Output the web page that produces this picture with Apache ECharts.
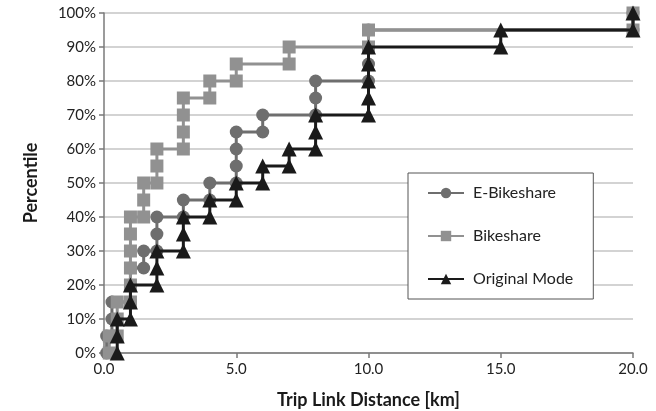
<!DOCTYPE html>
<html>
<head>
<meta charset="utf-8">
<script src="https://cdn.jsdelivr.net/npm/echarts@6/dist/echarts.min.js"></script>
<style>
html,body{margin:0;padding:0;background:#fff;}
#c{width:656px;height:411px;}
</style>
</head>
<body>
<div id="c"></div>
<script>
// Trip link distance [km] and cumulative percentile [%] (step CDF points)
const eBikeshareX = [0.1, 0.1, 0.3, 0.3, 0.3, 1.0, 1.0, 1.0, 1.5, 1.5, 2.0, 2.0, 2.0, 3.0, 3.0, 4.0, 4.0, 5.0, 5.0, 5.0, 5.0, 6.0, 6.0, 8.0, 8.0, 8.0, 10.0, 10.0, 10.0, 10.0, 20.0, 20.0];
const eBikeshareY = [0, 5, 5, 10, 15, 15, 20, 25, 25, 30, 30, 35, 40, 40, 45, 45, 50, 50, 55, 60, 65, 65, 70, 70, 75, 80, 80, 85, 90, 95, 95, 100];

const bikeshareX = [0.2, 0.2, 0.5, 0.5, 0.5, 1.0, 1.0, 1.0, 1.0, 1.0, 1.0, 1.5, 1.5, 1.5, 2.0, 2.0, 2.0, 3.0, 3.0, 3.0, 3.0, 4.0, 4.0, 5.0, 5.0, 7.0, 7.0, 10.0, 10.0, 20.0, 20.0];
const bikeshareY = [0, 5, 5, 10, 15, 15, 20, 25, 30, 35, 40, 40, 45, 50, 50, 55, 60, 60, 65, 70, 75, 75, 80, 80, 85, 85, 90, 90, 95, 95, 100];

const originalX = [0.5, 0.5, 0.5, 1.0, 1.0, 1.0, 2.0, 2.0, 2.0, 3.0, 3.0, 3.0, 4.0, 4.0, 5.0, 5.0, 6.0, 6.0, 7.0, 7.0, 8.0, 8.0, 8.0, 10.0, 10.0, 10.0, 10.0, 10.0, 15.0, 15.0, 20.0, 20.0];
const originalY = [0, 5, 10, 10, 15, 20, 20, 25, 30, 30, 35, 40, 40, 45, 45, 50, 50, 55, 55, 60, 60, 65, 70, 70, 75, 80, 85, 90, 90, 95, 95, 100];

const seriesNames = ['E-Bikeshare', 'Bikeshare', 'Original Mode'];
const xTicks = [0, 5, 10, 15, 20];
const yTicks = [0, 10, 20, 30, 40, 50, 60, 70, 80, 90, 100];

const pairs = (xs, ys) => xs.map((x, i) => [x, ys[i]]);

const FONT = 'Lato';
const chart = echarts.init(document.getElementById('c'), null, {renderer: 'canvas'});
chart.setOption({
  backgroundColor: '#ffffff',
  animation: false,
  grid: {left: 104, right: 23, top: 13, bottom: 58, containLabel: false, outerBoundsMode: 'none'},
  xAxis: {
    type: 'value', min: xTicks[0], max: xTicks[xTicks.length - 1], interval: 5,
    name: 'Trip Link Distance [km]', nameLocation: 'middle', nameGap: 38,
    nameTextStyle: {fontFamily: FONT, fontWeight: 'bold', fontSize: 18, color: '#1a1a1a'},
    axisLine: {show: true, lineStyle: {color: '#7a7a7a', width: 1.5}},
    axisTick: {show: true, length: 5, lineStyle: {color: '#7a7a7a', width: 1.5}},
    axisLabel: {fontFamily: FONT, fontSize: 15, color: '#222', margin: 9, formatter: v => v.toFixed(1)},
    splitLine: {show: false}
  },
  yAxis: {
    type: 'value', min: yTicks[0], max: yTicks[yTicks.length - 1], interval: 10,
    name: 'Percentile', nameLocation: 'middle', nameGap: 64, nameRotate: 90,
    nameTextStyle: {fontFamily: FONT, fontWeight: 'bold', fontSize: 18, color: '#1a1a1a'},
    axisLine: {show: true, lineStyle: {color: '#7a7a7a', width: 1.5}},
    axisTick: {show: true, length: 5, lineStyle: {color: '#7a7a7a', width: 1.5}},
    axisLabel: {fontFamily: FONT, fontSize: 15, color: '#222', margin: 8, formatter: v => v + '%'},
    splitLine: {show: true, lineStyle: {color: '#c4c4c4', width: 1.5}}
  },
  legend: {
    orient: 'vertical', left: 408, top: 173, width: 185,
    padding: [12, 20, 12, 19], itemGap: 27,
    backgroundColor: '#ffffff', borderColor: '#555555', borderWidth: 1,
    itemWidth: 36, itemHeight: 13,
    textStyle: {fontFamily: FONT, fontSize: 16, color: '#222', padding: [0, 0, 0, 4], width: 116},
    data: seriesNames
  },
  series: [
    {
      name: seriesNames[0], type: 'line', data: pairs(eBikeshareX, eBikeshareY),
      symbol: 'circle', symbolSize: 13,
      lineStyle: {color: '#6e6e6e', width: 3},
      itemStyle: {color: '#6e6e6e'}, z: 2
    },
    {
      name: seriesNames[1], type: 'line', data: pairs(bikeshareX, bikeshareY),
      symbol: 'rect', symbolSize: 13,
      lineStyle: {color: '#919191', width: 3},
      itemStyle: {color: '#919191'}, z: 3
    },
    {
      name: seriesNames[2], type: 'line', data: pairs(originalX, originalY),
      symbol: 'triangle', symbolSize: 15,
      lineStyle: {color: '#1a1a1a', width: 3},
      itemStyle: {color: '#1a1a1a'}, z: 4
    }
  ]
});
</script>
</body>
</html>
